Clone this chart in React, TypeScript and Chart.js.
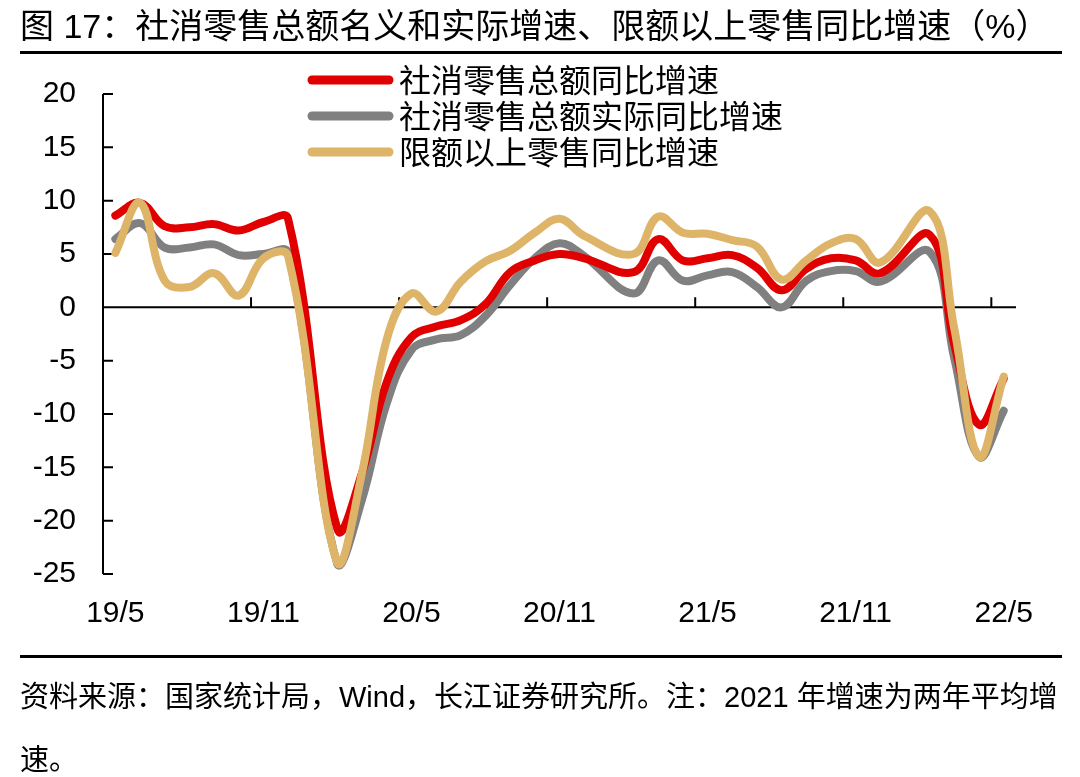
import React, { useEffect, useRef } from 'react';
import { Chart, registerables } from 'chart.js';

Chart.register(...registerables);

// ---- data ----
const months: string[] = [
  '19/5', '19/6', '19/7', '19/8', '19/9', '19/10', '19/11', '19/12',
  '20/1', '20/2', '20/3', '20/4', '20/5', '20/6', '20/7', '20/8', '20/9', '20/10', '20/11', '20/12',
  '21/1', '21/2', '21/3', '21/4', '21/5', '21/6', '21/7', '21/8', '21/9', '21/10', '21/11', '21/12',
  '22/1', '22/2', '22/3', '22/4', '22/5',
];
const shownTickLabels: string[] = ['19/5', '19/11', '20/5', '20/11', '21/5', '21/11', '22/5'];

const seriesNames: string[] = ['社消零售总额同比增速', '社消零售总额实际同比增速', '限额以上零售同比增速'];

const retailNominal: (number | null)[] = [
  8.6, 9.8, 7.6, 7.5, 7.8, 7.2, 8.0, 8.3,
  null, -20.8, -15.5, -7.0, -2.8, -1.8, -1.2, 0.3, 3.3, 4.4, 5.0, 4.6,
  null, 3.3, 6.4, 4.4, 4.6, 4.9, 3.7, 1.6, 3.6, 4.6, 4.4, 3.2,
  null, 6.8, -3.5, -11.0, -6.7,
];
const retailReal: (number | null)[] = [
  6.4, 7.9, 5.6, 5.6, 5.9, 4.9, 5.0, 5.1,
  null, -24.1, -18.0, -9.0, -4.0, -3.0, -2.6, -0.8, 2.1, 4.6, 6.0, 4.8,
  null, 1.3, 4.4, 2.5, 3.0, 3.3, 1.9, 0.0, 2.5, 3.4, 3.4, 2.4,
  null, 5.2, -4.8, -14.0, -9.7,
];
const aboveQuota: (number | null)[] = [
  5.1, 9.8, 2.5, 1.9, 3.2, 1.1, 4.6, 4.8,
  null, -24.0, -15.5, -3.0, 1.3, -0.4, 2.4, 4.3, 5.3, 7.0, 8.3, 6.7,
  null, 5.0, 8.5, 7.0, 6.9, 6.3, 5.7, 2.6, 4.4, 6.0, 6.4, 4.2,
  null, 9.0, -2.0, -14.0, -6.5,
];

const yMin = -25;
const yMax = 20;
const yStep = 5;

const colors = ['#E00000', '#808080', '#DDB468'];

const decorPlugin = {
  id: 'decor',
  beforeDatasetsDraw(chart: any) {
    const { ctx, chartArea, scales } = chart;
    const xs = scales.x;
    const ys = scales.y;
    const y0 = ys.getPixelForValue(0);
    ctx.save();
    ctx.strokeStyle = '#000';
    ctx.lineWidth = 2;
    ctx.lineCap = 'butt';
    ctx.beginPath();
    // y axis line
    ctx.moveTo(chartArea.left, ys.getPixelForValue(yMax));
    ctx.lineTo(chartArea.left, ys.getPixelForValue(yMin));
    // inward y ticks
    ys.ticks.forEach((t: any) => {
      const py = ys.getPixelForValue(t.value);
      ctx.moveTo(chartArea.left, py);
      ctx.lineTo(chartArea.left + 10, py);
    });
    // zero line
    ctx.moveTo(chartArea.left, y0);
    ctx.lineTo(chartArea.right, y0);
    // x tick marks at category boundaries, every 6 months
    for (let i = 6; i < months.length; i += 6) {
      const px = (xs.getPixelForValue(i - 1) + xs.getPixelForValue(i)) / 2;
      ctx.moveTo(px, y0);
      ctx.lineTo(px, y0 - 10);
    }
    ctx.stroke();
    ctx.restore();
  },
  afterDraw(chart: any) {
    const { ctx } = chart;
    ctx.save();
    chart.data.datasets.forEach((ds: any, i: number) => {
      const yy = 80 + i * 36;
      ctx.strokeStyle = ds.borderColor;
      ctx.lineWidth = 9;
      ctx.lineCap = 'round';
      ctx.beginPath();
      ctx.moveTo(312, yy);
      ctx.lineTo(389, yy);
      ctx.stroke();
      ctx.fillStyle = '#000';
      ctx.font = '32px "Noto Sans CJK SC", sans-serif';
      ctx.textBaseline = 'middle';
      ctx.textAlign = 'left';
      ctx.fillText(ds.label, 399, yy);
    });
    ctx.restore();
  },
};

export default function App() {
  const ref = useRef<HTMLCanvasElement | null>(null);

  useEffect(() => {
    if (!ref.current) return;
    const seriesData = [retailNominal, retailReal, aboveQuota];
    const orders = [1, 2, 0];
    const chart = new Chart(ref.current, {
      type: 'line',
      data: {
        labels: months,
        datasets: seriesNames.map((name, i) => ({
          label: name,
          data: seriesData[i],
          borderColor: colors[i],
          backgroundColor: colors[i],
          borderWidth: 8,
          pointRadius: 0,
          pointHoverRadius: 0,
          tension: 0.4,
          spanGaps: true,
          borderCapStyle: 'round' as const,
          borderJoinStyle: 'round' as const,
          fill: false,
          order: orders[i],
        })),
      },
      options: {
        responsive: false,
        animation: false,
        events: [],
        layout: { padding: { top: 94, right: 64, left: 0, bottom: 0 } },
        plugins: {
          legend: { display: false },
          tooltip: { enabled: false },
          title: { display: false },
        },
        scales: {
          x: {
            type: 'category',
            offset: true,
            grid: { display: false },
            border: { display: false },
            ticks: {
              autoSkip: false,
              maxRotation: 0,
              minRotation: 0,
              padding: 14,
              color: '#000',
              font: { family: '"Liberation Sans", Arial, sans-serif', size: 30 },
              callback: function (this: any, _v: any, idx: number) {
                const lab = months[idx];
                return shownTickLabels.includes(lab) ? lab : '';
              },
            },
            afterFit: (scale: any) => {
              scale.height = 777 - 574;
            },
          },
          y: {
            min: yMin,
            max: yMax,
            grid: { display: false },
            border: { display: false },
            ticks: {
              stepSize: yStep,
              padding: 19,
              color: '#000',
              font: { family: '"Liberation Sans", Arial, sans-serif', size: 30 },
            },
            afterFit: (scale: any) => {
              scale.width = 103;
            },
          },
        },
      },
      plugins: [decorPlugin],
    });
    return () => chart.destroy();
  }, []);

  const cjk = '"Liberation Sans", "Noto Sans CJK SC", sans-serif';

  return (
    <div style={{ position: 'absolute', left: 0, top: 0, width: 1080, height: 777, background: '#fff', overflow: 'hidden' }}>
      <canvas ref={ref} width={1080} height={777} style={{ position: 'absolute', left: 0, top: 0 }} />
      <div style={{ position: 'absolute', left: 20, top: 4, fontFamily: cjk, fontSize: 34, lineHeight: '44px', color: '#000', whiteSpace: 'nowrap' }}>
        图&nbsp;17：社消零售总额名义和实际增速、限额以上零售同比增速（%）
      </div>
      <div style={{ position: 'absolute', left: 20, top: 51, width: 1042, height: 3, background: '#000' }} />
      <div style={{ position: 'absolute', left: 20, top: 655, width: 1042, height: 3, background: '#000' }} />
      <div style={{ position: 'absolute', left: 20, top: 666, fontFamily: cjk, fontSize: 29, lineHeight: '63px', color: '#000', whiteSpace: 'nowrap' }}>
        资料来源：国家统计局，Wind，长江证券研究所。注：2021 年增速为两年平均增
        <br />
        速。
      </div>
    </div>
  );
}
